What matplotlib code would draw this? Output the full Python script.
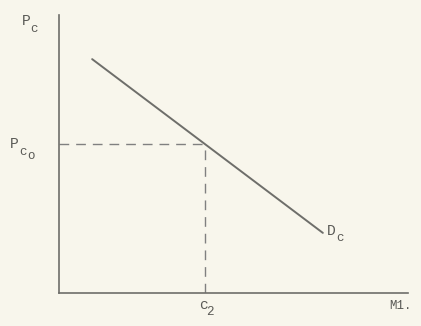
import matplotlib.pyplot as plt

# demand curve D_c (quantity, price)
demand_q = [0.95, 7.56]
demand_p = [6.73, 1.73]

# equilibrium point
c2 = 4.18
pc0 = 4.29

bg = '#f8f6ec'
ink = '#6e6e6a'

fig = plt.figure(figsize=(4.21, 3.26), dpi=100, facecolor=bg)
ax = fig.add_axes([59 / 421, 33 / 326, 349 / 421, 278 / 326])
ax.set_facecolor(bg)
ax.set_xlim(0, 10)
ax.set_ylim(0, 8)

ax.plot(demand_q, demand_p, color=ink, lw=1.4, solid_capstyle='round')
ax.plot([0, c2], [pc0, pc0], color='#808080', lw=1.0, ls=(0, (7, 5)))
ax.plot([c2, c2], [0, pc0], color='#808080', lw=1.0, ls=(0, (7, 5)))

for side in ['top', 'right']:
    ax.spines[side].set_visible(False)
for side in ['left', 'bottom']:
    ax.spines[side].set_color(ink)
    ax.spines[side].set_linewidth(1.2)
ax.set_xticks([])
ax.set_yticks([])

font = dict(family='Liberation Mono', color='#5a5a56', fontsize=10.5)
sub = dict(family='Liberation Mono', color='#5a5a56', fontsize=9)

fig.text(22 / 421, 1 - 21 / 326, 'P', **font, ha='left', va='center')
fig.text(30 / 421, 1 - 29 / 326, 'c', **sub, ha='left', va='center')

fig.text(10 / 421, 1 - 144 / 326, 'P', **font, ha='left', va='center')
fig.text(19 / 421, 1 - 152 / 326, 'c', **sub, ha='left', va='center')
fig.text(27 / 421, 1 - 156 / 326, 'o', **sub, ha='left', va='center')

fig.text(327 / 421, 1 - 231 / 326, 'D', **font, ha='left', va='center')
fig.text(336 / 421, 1 - 238 / 326, 'c', **sub, ha='left', va='center')

fig.text(203 / 421, 1 - 305 / 326, 'c', **font, ha='center', va='center')
fig.text(210 / 421, 1 - 312 / 326, '2', **sub, ha='center', va='center')

fig.text(389 / 421, 1 - 306 / 326, 'M1.', **sub, ha='left', va='center')

fig.savefig('out.png', dpi=100, facecolor=bg)
